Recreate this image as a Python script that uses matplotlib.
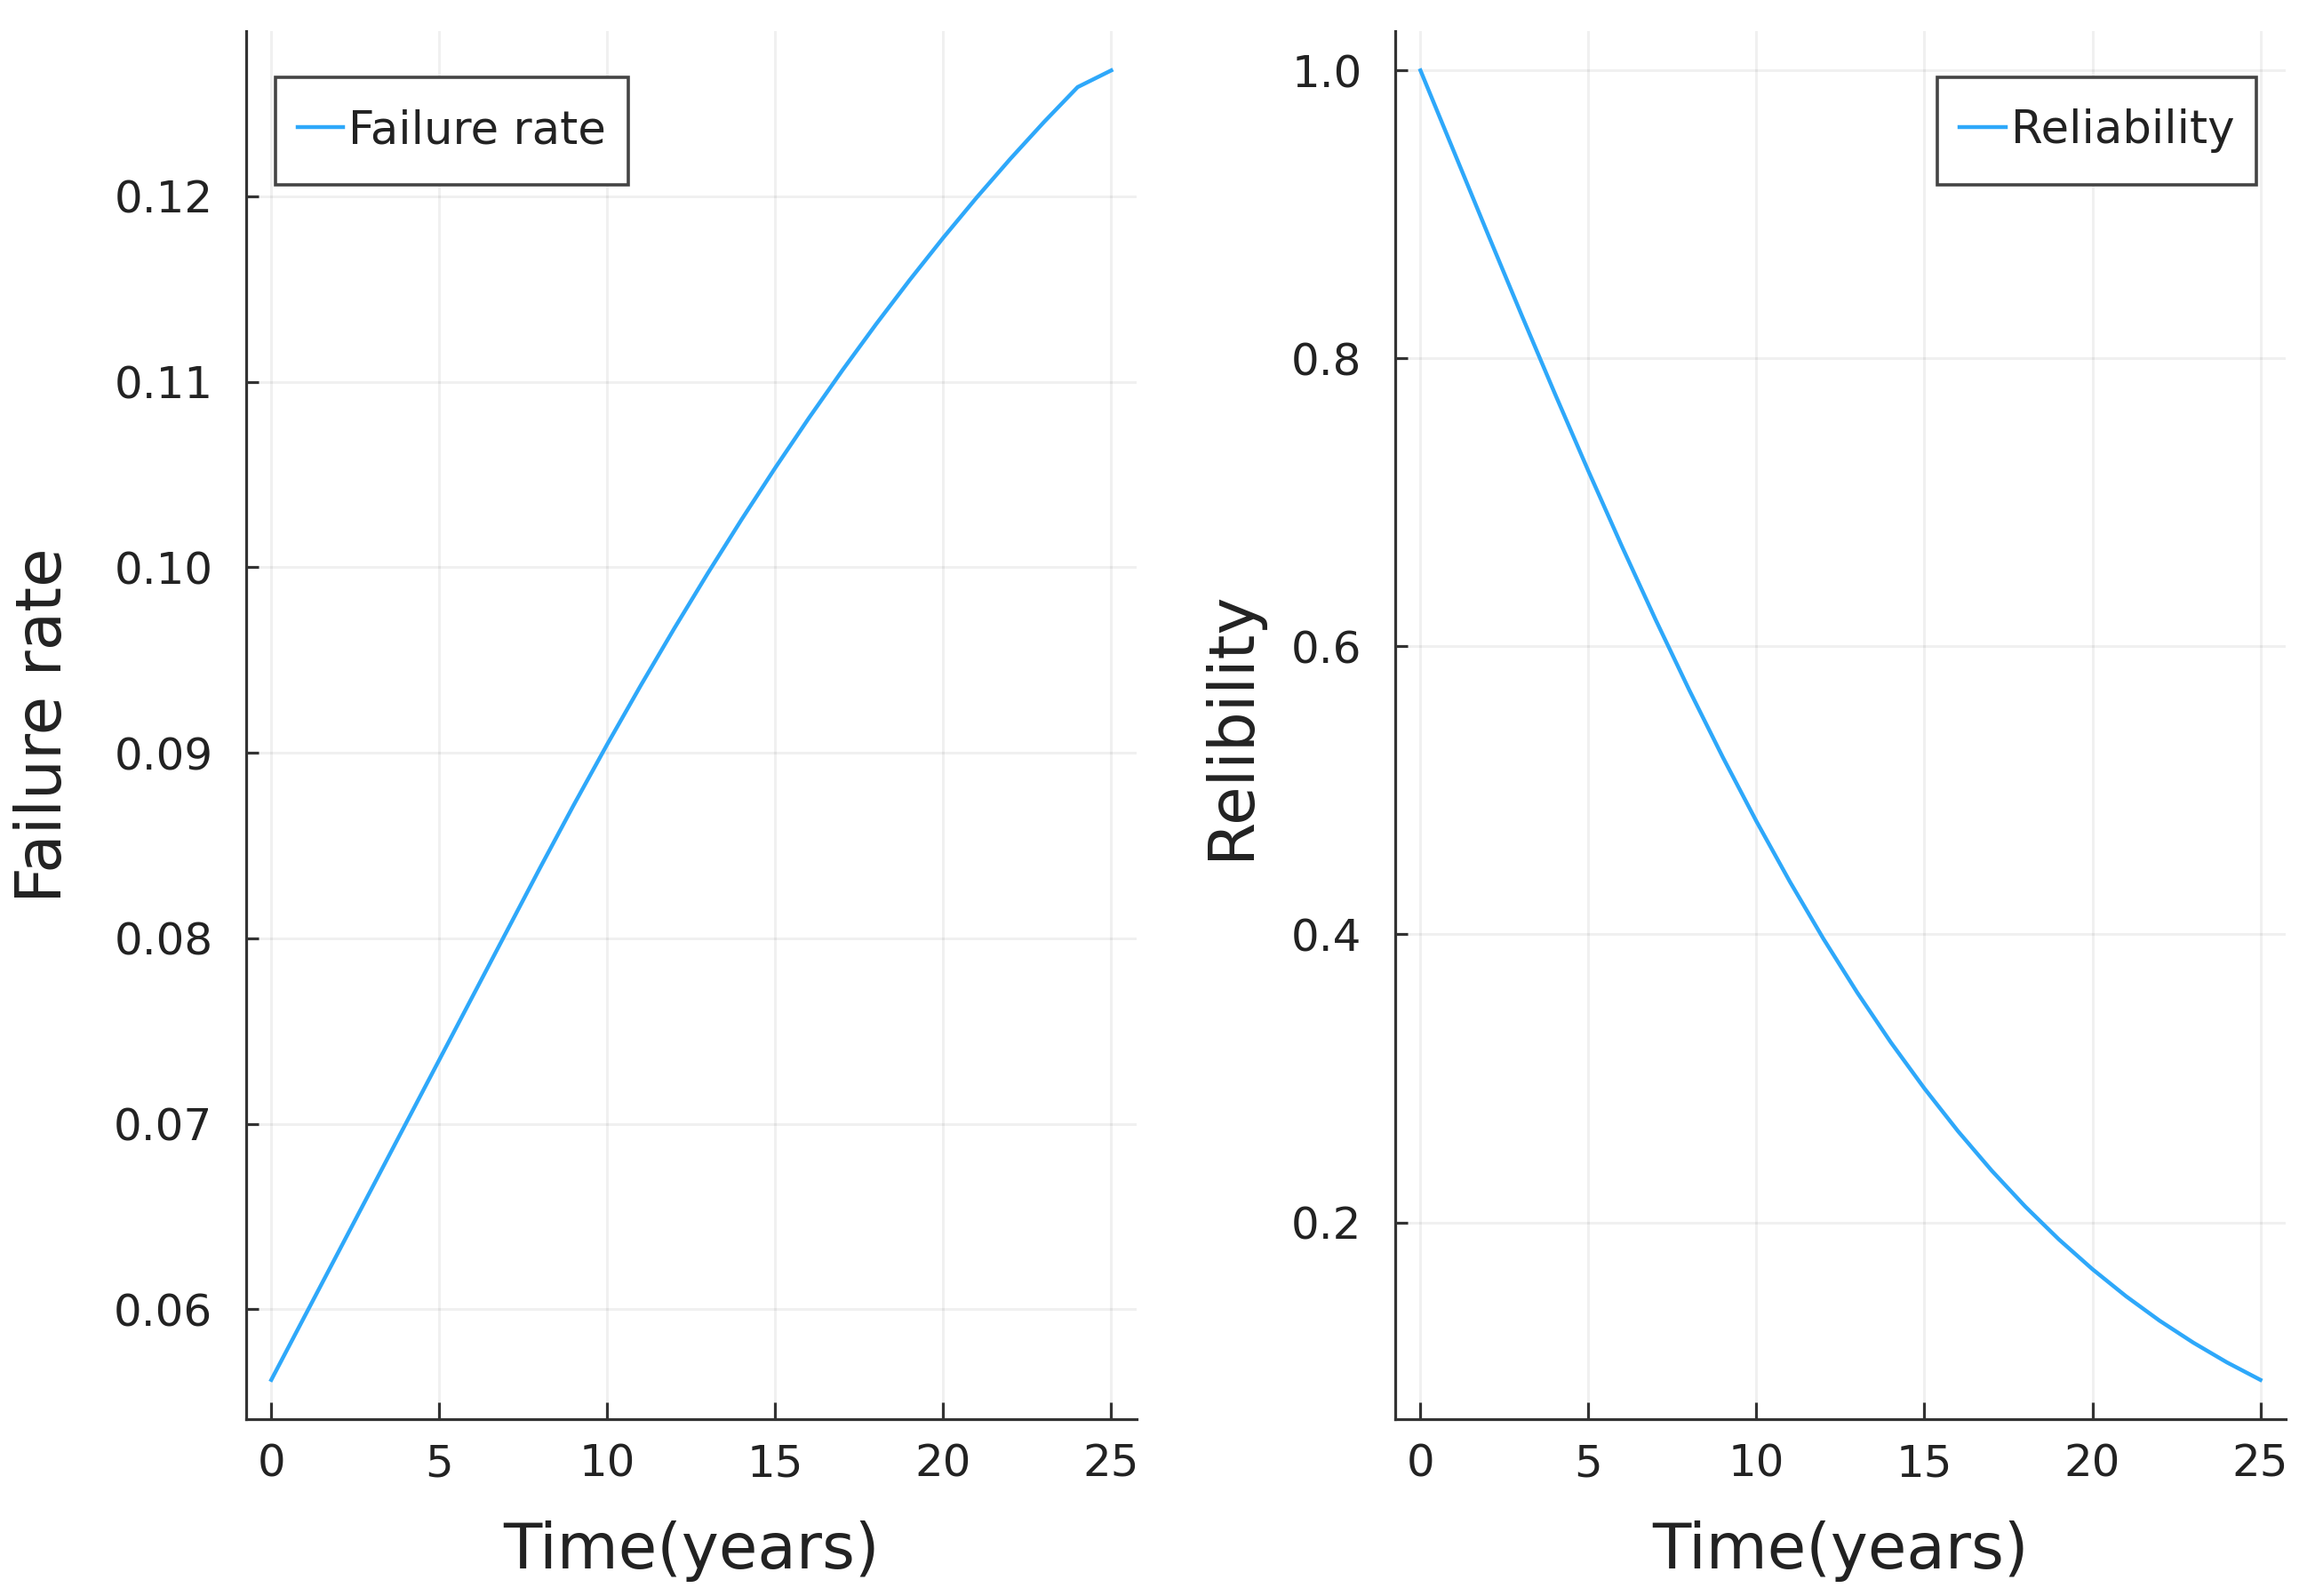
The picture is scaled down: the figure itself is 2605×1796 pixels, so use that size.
import matplotlib
matplotlib.use("Agg")
import matplotlib.pyplot as plt
from matplotlib import font_manager
from matplotlib.patches import Rectangle

years = list(range(26))
failure_rate = [0.0562, 0.05965, 0.0631, 0.06655, 0.0700, 0.07345, 0.0769, 0.08035,
                0.0838, 0.08718, 0.09046, 0.09364, 0.09672, 0.0997, 0.10258, 0.10536,
                0.10804, 0.11062, 0.1131, 0.11548, 0.11776, 0.11994, 0.12202, 0.1240,
                0.12588, 0.12678]
reliability = [1.0, 0.9434, 0.8867, 0.8307, 0.7756, 0.7217, 0.6693, 0.6185,
               0.5697, 0.5230, 0.4785, 0.4364, 0.3967, 0.3596, 0.3250, 0.2930,
               0.2633, 0.2360, 0.2110, 0.1882, 0.1675, 0.1487, 0.1317, 0.1165,
               0.1028, 0.0906]

x_ticks = [0, 5, 10, 15, 20, 25]
fr_ticks = [0.06, 0.07, 0.08, 0.09, 0.10, 0.11, 0.12]
fr_labels = ["0.06", "0.07", "0.08", "0.09", "0.10", "0.11", "0.12"]
rel_ticks = [0.2, 0.4, 0.6, 0.8, 1.0]
rel_labels = ["0.2", "0.4", "0.6", "0.8", "1.0"]

available = {f.name for f in font_manager.fontManager.ttflist}
if 'DejaVu Sans Condensed' in available:
    FAM = ['DejaVu Sans Condensed', 'DejaVu Sans']
    TICK_FS, LAB_FS, LEG_FS = 40, 56, 40
else:
    FAM = ['DejaVu Sans']
    TICK_FS, LAB_FS, LEG_FS = 36, 51, 37
plt.rcParams['font.family'] = FAM

COLOR = '#2EA8FA'
TXT = '#222222'
SPINE = '#333333'
EXTRA = 11  # extra vertical legend padding, pixels

fig = plt.figure(figsize=(26.05, 17.96), dpi=100)
ax1 = fig.add_axes([0.1063, 0.1108, 0.3846, 0.8697])
ax2 = fig.add_axes([0.6027, 0.1108, 0.3846, 0.8697])


def pad_limits(vals):
    lo, hi = min(vals), max(vals)
    d = (hi - lo) * 0.03
    return lo - d, hi + d


def style(ax, yticks, ylabels, ylab, data, label_x):
    ax.set_xlim(pad_limits(years))
    ax.set_ylim(pad_limits(data))
    ax.set_xticks(x_ticks)
    ax.set_xticklabels([str(v) for v in x_ticks])
    ax.set_yticks(yticks)
    ax.set_yticklabels(ylabels)
    for s in ['top', 'right']:
        ax.spines[s].set_visible(False)
    for s in ['left', 'bottom']:
        ax.spines[s].set_linewidth(2.3)
        ax.spines[s].set_color(SPINE)
    ax.grid(True, color='#000000', alpha=0.06, linewidth=2.2)
    ax.set_axisbelow(True)
    ax.tick_params(axis='x', direction='in', length=14, width=2.3,
                   labelsize=TICK_FS, pad=19, colors=SPINE, labelcolor=TXT)
    ax.tick_params(axis='y', direction='in', length=10, width=2.3,
                   labelsize=TICK_FS, pad=27, colors=SPINE, labelcolor=TXT)
    ax.set_xlabel("Time(years)", fontsize=LAB_FS, color=TXT)
    ax.set_ylabel(ylab, fontsize=LAB_FS, color=TXT)
    ax.xaxis.set_label_coords(0.5, -0.095)
    ax.xaxis.label.set_va('center')
    ax.yaxis.set_label_coords(label_x, 0.5)
    ax.yaxis.label.set_va('center')


def add_legend(ax, loc, anchor):
    ax_h = ax.get_position().height * fig.bbox.height
    ay = anchor[1] - EXTRA / ax_h
    leg = ax.legend(loc=loc, bbox_to_anchor=(anchor[0], ay), borderaxespad=0,
                    fontsize=LEG_FS, handlelength=1.0, handletextpad=0.12,
                    borderpad=0.48, frameon=False, labelcolor=TXT)
    leg.set_zorder(6)
    return leg


ax1.plot(years, failure_rate, color=COLOR, linewidth=3.2, label="Failure rate")
style(ax1, fr_ticks, fr_labels, "Failure rate", failure_rate, -0.2265)
leg1 = add_legend(ax1, 'upper left', (0.033, 0.967))

ax2.plot(years, reliability, color=COLOR, linewidth=3.2, label="Reliability")
style(ax2, rel_ticks, rel_labels, "Relibility", reliability, -0.184)
leg2 = add_legend(ax2, 'upper right', (0.967, 0.967))

fig.canvas.draw()
renderer = fig.canvas.get_renderer()
for ax, leg in ((ax1, leg1), (ax2, leg2)):
    bb = leg.get_window_extent(renderer)
    inv = ax.transAxes.inverted()
    (x0, y0), (x1, y1) = inv.transform([(bb.x0, bb.y0 - EXTRA), (bb.x1, bb.y1 + EXTRA)])
    rect = Rectangle((x0, y0), x1 - x0, y1 - y0, transform=ax.transAxes,
                     facecolor='white', edgecolor='#444444', linewidth=2.6,
                     zorder=5.5, clip_on=False)
    ax.add_patch(rect)

fig.savefig("out.png", dpi=100, facecolor='white')
